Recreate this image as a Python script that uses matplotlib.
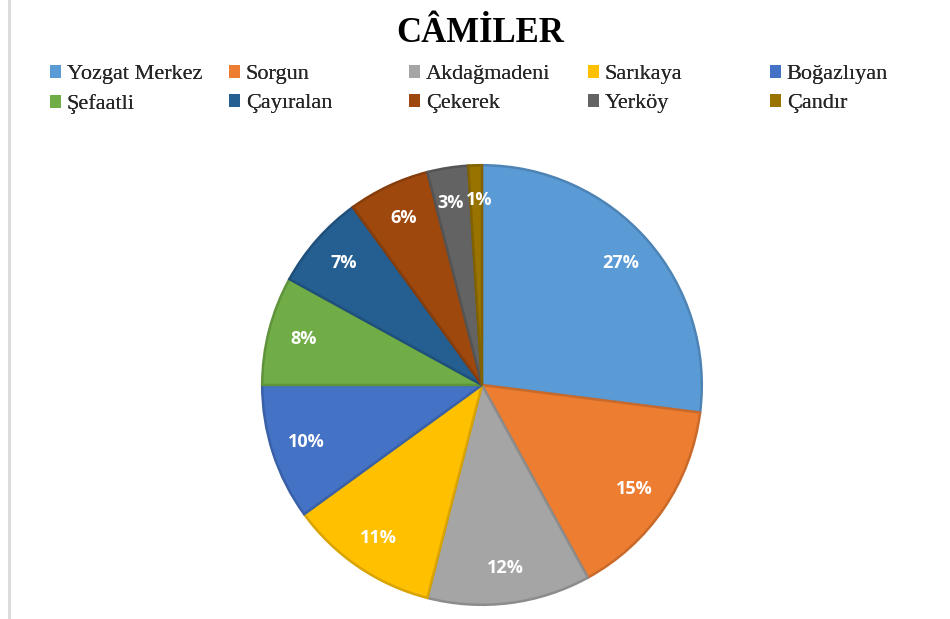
import matplotlib
matplotlib.use("Agg")
import matplotlib.pyplot as plt
from matplotlib.colors import to_rgb
from matplotlib.lines import Line2D
from matplotlib.font_manager import FontProperties
import matplotlib.transforms as mtransforms

categories = ["Yozgat Merkez", "Sorgun", "Akdağmadeni", "Sarıkaya", "Boğazlıyan",
              "Şefaatli", "Çayıralan", "Çekerek", "Yerköy", "Çandır"]
values = [27, 15, 12, 11, 10, 8, 7, 6, 3, 1]
colors = ["#5B9BD5", "#ED7D31", "#A5A5A5", "#FFC000", "#4472C4",
          "#70AD47", "#255E91", "#9E480E", "#636363", "#997300"]
title = "CÂMİLER"

W, H = 950, 619
fig = plt.figure(figsize=(W / 100, H / 100), dpi=100)
fig.patch.set_facecolor("white")

# pie axes
cx, cy, r = 482, 385, 222
ax = fig.add_axes([(cx - r) / W, (H - cy - r) / H, 2 * r / W, 2 * r / H])
wedges, texts, autotexts = ax.pie(
    values, colors=colors, startangle=90, counterclock=False,
    autopct=lambda p: f"{p:.0f}%", pctdistance=0.84,
    wedgeprops=dict(linewidth=1.8),
    textprops=dict(color="white", fontsize=13, fontweight="bold", family="Open Sans"))
for w, c in zip(wedges, colors):
    rgb = to_rgb(c)
    w.set_edgecolor(tuple(v * 0.85 for v in rgb))
# small nudges so the two tiny labels sit side by side as in the reference
autotexts[8].set_transform(ax.transData + mtransforms.ScaledTranslation(-3 / 100, 0, fig.dpi_scale_trans))
autotexts[9].set_transform(ax.transData + mtransforms.ScaledTranslation(3 / 100, 0, fig.dpi_scale_trans))
ax.set_xlim(-1.01, 1.01)
ax.set_ylim(-1.01, 1.01)
ax.set_aspect("equal")
ax.axis("off")

# title
fig.text(480 / W, 1 - 33 / H, title, ha="center", va="center",
         fontproperties=FontProperties(family=["Liberation Serif"], weight="bold", size=25))

# legend: 5 columns x 2 rows
legend_font = FontProperties(family=["Liberation Serif"], size=16)
col_x = [50, 229, 409, 588, 770]
for i, x in enumerate(col_x):
    idx = [i, i + 5]
    handles = [wedges[j] for j in idx]
    labels = [categories[j] for j in idx]
    leg = fig.legend(handles, labels, loc="upper left",
                     bbox_to_anchor=(x / W, 1 - 65 / H), frameon=False,
                     prop=legend_font,
                     handlelength=0.5, handleheight=0.5, handletextpad=0.25,
                     labelspacing=0.45, borderpad=0, borderaxespad=0)
    for h, j in zip(leg.legend_handles, idx):
        h.set_edgecolor(colors[j])
        h.set_linewidth(0)
    for t in leg.get_texts():
        t.set_fontproperties(legend_font)
        t.set_color("#262626")
    fig.add_artist(leg)

# left frame line
fig.add_artist(Line2D([8.5 / W, 8.5 / W], [0, 1], color="#D9D9D9", linewidth=2,
                      transform=fig.transFigure))

fig.savefig("out.png", dpi=100)
